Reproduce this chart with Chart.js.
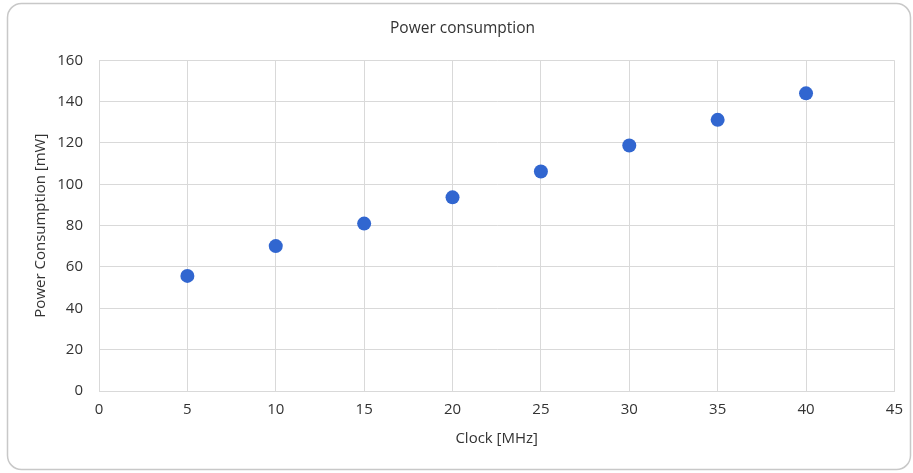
<!DOCTYPE html>
<html>
<head>
<meta charset="utf-8">
<script src="https://cdn.jsdelivr.net/npm/chart.js@4/dist/chart.umd.min.js"></script>
<style>
  html, body { margin: 0; padding: 0; background: #ffffff; }
  #chart { display: block; }
</style>
</head>
<body>
<canvas id="chart" width="913" height="473"></canvas>
<script>
// clock frequency vs measured power
const clockMHz = [5, 10, 15, 20, 25, 30, 35, 40];
const powerMW = [55.7, 70.1, 81.0, 93.7, 106.2, 118.8, 131.2, 144.0];

const textColor = '#333333';
const gridColor = '#d9d9d9';
const fontFamily = '"Open Sans", "DejaVu Sans", sans-serif';

// rounded frame round the whole chart
const frame = {
    id: 'frame',
    beforeDraw(chart) {
        const ctx = chart.ctx;
        ctx.save();
        ctx.fillStyle = '#ffffff';
        ctx.fillRect(0, 0, chart.width, chart.height);
        ctx.beginPath();
        ctx.roundRect(7.5, 3.5, 903, 466, 14);
        ctx.strokeStyle = '#c8c8c8';
        ctx.lineWidth = 1.5;
        ctx.stroke();
        ctx.restore();
    }
};

let ctx = document.getElementById('chart').getContext('2d');
let myChart = new Chart(ctx, {
    type: 'scatter',
    data: {
        datasets: [{
            label: 'Power consumption',
            data: clockMHz.map((x, i) => ({ x: x, y: powerMW[i] })),
            backgroundColor: '#3166d0',
            borderColor: '#3166d0',
            borderWidth: 0,
            pointRadius: 7,
            pointHoverRadius: 7
        }]
    },
    options: {
        responsive: false,
        animation: false,
        layout: {
            padding: { left: 28, right: 16, top: 0, bottom: 21 }
        },
        plugins: {
            legend: { display: false },
            tooltip: { enabled: false },
            title: {
                display: true,
                text: 'Power consumption',
                color: textColor,
                font: { family: fontFamily, size: 15.5, weight: 'normal' },
                padding: { top: 19.5, bottom: 22.2 }
            }
        },
        scales: {
            x: {
                type: 'linear',
                min: 0,
                max: 45,
                ticks: {
                    stepSize: 5,
                    color: textColor,
                    padding: 10,
                    font: { family: fontFamily, size: 15 }
                },
                grid: { color: gridColor, drawTicks: false },
                border: { color: gridColor },
                title: {
                    display: true,
                    text: 'Clock [MHz]',
                    color: textColor,
                    font: { family: fontFamily, size: 15 }
                },
                afterFit(scale) { scale.height = 61; }
            },
            y: {
                type: 'linear',
                min: 0,
                max: 160,
                ticks: {
                    stepSize: 20,
                    color: textColor,
                    padding: 16,
                    font: { family: fontFamily, size: 15 }
                },
                grid: { color: gridColor, drawTicks: false },
                border: { color: gridColor },
                title: {
                    display: true,
                    text: 'Power Consumption [mW]',
                    color: textColor,
                    font: { family: fontFamily, size: 15 }
                },
                afterFit(scale) { scale.width = 71; }
            }
        }
    },
    plugins: [frame]
});
</script>
</body>
</html>
